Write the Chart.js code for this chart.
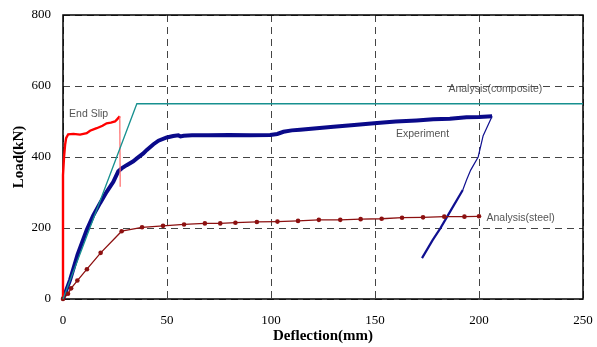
<!DOCTYPE html>
<html>
<head>
<meta charset="utf-8">
<script src="https://cdn.jsdelivr.net/npm/chart.js@4.4.1/dist/chart.umd.min.js"></script>
<style>
  html, body { margin: 0; padding: 0; background: #fff; }
  #wrap { width: 597px; height: 347px; }
</style>
</head>
<body>
<div id="wrap"><canvas id="loadChart" width="597" height="347"></canvas></div>
<script>
// Load-deflection curves, deflection in mm and load in kN
const xTicks = [0, 50, 100, 150, 200, 250];
const yTicks = [0, 200, 400, 600, 800];

const experimentX = [0, 3.4, 7, 11.4, 14.5, 17.8, 21, 24.2, 26.6, 28.2, 30.6, 33.8, 35.5, 38.6, 40.3, 43.5, 45.9, 49.9, 53, 55.5, 56.5, 58, 62, 70, 80, 90, 99.6, 103, 106, 110, 114, 122, 130, 140, 151, 160, 170, 178, 186, 194, 200, 206.3];
const experimentY = [0, 54, 125, 194, 235, 270, 302, 330, 360, 368, 377, 388, 396, 410, 420, 436, 446, 455, 459, 461, 458, 460, 461, 461, 462, 461, 462, 465, 471, 475, 477, 481, 485, 490, 496, 500, 503, 506, 508, 512, 513, 515];

// unloading branch: thin upper part, heavier lower part
const unloadTopX = [206.3, 202, 199.6, 196, 194, 192.2];
const unloadTopY = [515, 460, 400, 363, 335, 307];
const unloadLowX = [192.2, 188, 184.7, 181.4, 177.7, 172.6];
const unloadLowY = [307, 265, 232, 199, 166, 115];

const endSlipX = [0, 0, 0.5, 1, 1.5, 2.5, 5, 8.2, 11.4, 13, 16.2, 19, 21, 23, 25, 26, 27.3];
const endSlipY = [0, 349, 400, 434, 453, 464, 465, 463, 467, 474, 481, 488, 495, 497, 500, 506, 515];
const endSlipDropX = [27.3, 27.5];
const endSlipDropY = [515, 316];

const compositeX = [0, 35.5, 250];
const compositeY = [0, 550, 550];

const steelX = [0, 2.4, 3.9, 6.9, 11.5, 18.1, 28.2, 38, 48.1, 58.2, 68.2, 75.6, 82.9, 93.2, 103.1, 113, 123, 133.3, 143.1, 153.2, 163, 173.1, 183.3, 193, 200];
const steelY = [0, 15, 30, 52, 84, 130, 191, 202, 206, 210, 213, 213, 215, 217, 218, 220, 223, 223, 225, 226, 229, 230, 232, 232, 233];

// curve names and where they sit (data units, left/middle of text)
const labelText = ["End Slip", "Analysis(composite)", "Experiment", "Analysis(steel)"];
const labelX = [2.9, 185.3, 160.1, 203.6];
const labelY = [521, 592, 465, 228];

function pts(xs, ys) {
  return xs.map((x, i) => ({ x: x, y: ys[i] }));
}

function line(data, color, width, extra) {
  return Object.assign({
    data: data,
    borderColor: color,
    backgroundColor: color,
    borderWidth: width,
    pointRadius: 0,
    showLine: true,
    tension: 0,
    clip: false,
  }, extra || {});
}

// solid box round the plot area
const frame = {
  id: "frame",
  beforeDatasetsDraw(chart) {
    const { ctx, chartArea: a } = chart;
    ctx.save();
    ctx.strokeStyle = "#000";
    ctx.lineWidth = 1.5;
    ctx.strokeRect(a.left, a.top, a.right - a.left, a.bottom - a.top);
    ctx.restore();
  },
};

// curve captions
const captions = {
  id: "captions",
  afterDatasetsDraw(chart) {
    const { ctx, scales } = chart;
    ctx.save();
    ctx.font = "10.5px 'Liberation Sans', Arial, sans-serif";
    ctx.fillStyle = "#555";
    ctx.textBaseline = "middle";
    ctx.textAlign = "left";
    labelText.forEach((t, i) => {
      ctx.fillText(t, scales.x.getPixelForValue(labelX[i]), scales.y.getPixelForValue(labelY[i]));
    });
    ctx.restore();
  },
};

const gridStyle = {
  color: "#444",
  lineWidth: 1,
  drawTicks: false,
};

new Chart(document.getElementById("loadChart"), {
  type: "scatter",
  data: {
    datasets: [
      line(pts(compositeX, compositeY), "#17908f", 1.3),
      line(pts(steelX, steelY), "#8c1010", 1.3, { pointRadius: 2.3, pointBorderWidth: 0 }),
      line(pts(endSlipDropX, endSlipDropY), "#ff6a6a", 1.2),
      line(pts(endSlipX, endSlipY), "#ff0000", 2.4),
      line(pts(unloadTopX, unloadTopY), "#101090", 1.2),
      line(pts(unloadLowX, unloadLowY), "#101090", 2.2),
      line(pts(experimentX, experimentY), "#0a0a8a", 4),
    ],
  },
  options: {
    responsive: false,
    animation: false,
    layout: { padding: { top: 15, right: 14, left: 0, bottom: 0 } },
    plugins: {
      legend: { display: false },
      tooltip: { enabled: false },
    },
    scales: {
      x: {
        type: "linear",
        min: 0,
        max: 250,
        afterBuildTicks: (s) => { s.ticks = xTicks.map((v) => ({ value: v })); },
        afterFit: (s) => { s.height = 48; s.paddingLeft = 0; s.paddingRight = 0; },
        grid: Object.assign({}, gridStyle),
        border: { display: false, dash: [7, 5] },
        ticks: {
          padding: 14,
          color: "#000",
          font: { family: "'Liberation Serif', 'Times New Roman', serif", size: 13 },
        },
        title: {
          display: true,
          text: "Deflection(mm)",
          color: "#000",
          padding: { top: 0, bottom: 2 },
          font: { family: "'Liberation Serif', 'Times New Roman', serif", size: 15, weight: "bold" },
        },
      },
      y: {
        type: "linear",
        min: 0,
        max: 800,
        afterBuildTicks: (s) => { s.ticks = yTicks.map((v) => ({ value: v })); },
        afterFit: (s) => { s.width = 63; s.paddingTop = 0; s.paddingBottom = 0; },
        grid: Object.assign({}, gridStyle),
        border: { display: false, dash: [7, 5] },
        ticks: {
          padding: 12,
          color: "#000",
          font: { family: "'Liberation Serif', 'Times New Roman', serif", size: 13 },
        },
        title: {
          display: true,
          text: "Load(kN)",
          color: "#000",
          padding: { top: 10, bottom: 0 },
          font: { family: "'Liberation Serif', 'Times New Roman', serif", size: 15, weight: "bold" },
        },
      },
    },
  },
  plugins: [frame, captions],
});
</script>
</body>
</html>
